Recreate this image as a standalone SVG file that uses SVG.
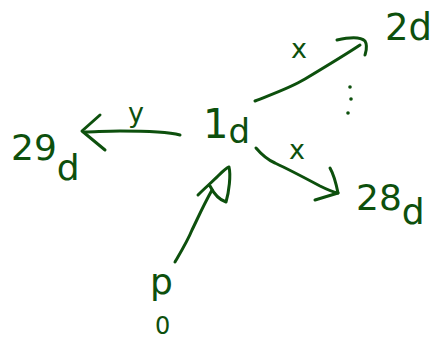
<svg xmlns="http://www.w3.org/2000/svg" width="435" height="342" viewBox="0 0 435 342">
<style>
.s{fill:none;stroke:#0d500d;stroke-width:3;stroke-linecap:round;stroke-linejoin:round}
.t{fill:#0d500d;font-family:"DejaVu Sans","Liberation Sans",sans-serif}
.lbl{fill:#0d500d;font-family:"DejaVu Sans","Liberation Sans",sans-serif;font-size:27px}
</style>
<rect width="435" height="342" fill="#fff"/>
<g id="connectors">
  <g id="e-1d-2d">
    <path class="s" d="M255,101 C275,93 290,88 305,79 C325,67 345,55 360,45"/>
    <path class="s" d="M337,40 C350,37 360,36 365,41 C368,46 366,51 365,55"/>
    <text class="lbl" x="291" y="58">x</text>
  </g>
  <g id="e-1d-28d">
    <path class="s" d="M256,148 C262,155 268,160 275,163 C290,170 305,178 320,186 C328,190 333,192 338,193"/>
    <path class="s" d="M330,168 C334,175 336,183 338,193 L315,200"/>
    <text class="lbl" x="289" y="159">x</text>
  </g>
  <g id="e-1d-29d">
    <path class="s" d="M180,135 C165,131 140,131 120,131 C105,131 95,132 85,132"/>
    <path class="s" d="M100,115 L82,131 L105,150"/>
    <text class="lbl" x="128" y="122">y</text>
  </g>
  <g id="e-p0-1d">
    <path class="s" d="M175,262 C182,250 188,240 192,230 C197,220 202,208 212,190"/>
    <path class="s" d="M198,195 C205,188 212,182 218,176 C222,172 226,168 229,167 C231,175 229,192 226,202 C220,200 214,194 210,186"/>
  </g>
</g>
<g id="n-1d"><text class="t" font-size="40" x="203" y="138">1<tspan font-size="34" dy="5">d</tspan></text></g>
<g id="n-2d"><text class="t" font-size="37" x="385" y="40">2d</text></g>
<g id="n-28d"><text class="t" font-size="36" x="356" y="210">28<tspan dy="14">d</tspan></text></g>
<g id="n-29d"><text class="t" font-size="36" x="11" y="160">29<tspan dy="20">d</tspan></text></g>
<g id="n-p0"><text class="t" font-size="36" x="150" y="294">p</text><text class="t" font-size="24" x="155" y="334">0</text></g>
<g id="dots" fill="#0d500d">
  <circle cx="350" cy="87" r="1.8"/>
  <circle cx="351" cy="99" r="1.8"/>
  <circle cx="348" cy="113" r="1.8"/>
</g>
</svg>
